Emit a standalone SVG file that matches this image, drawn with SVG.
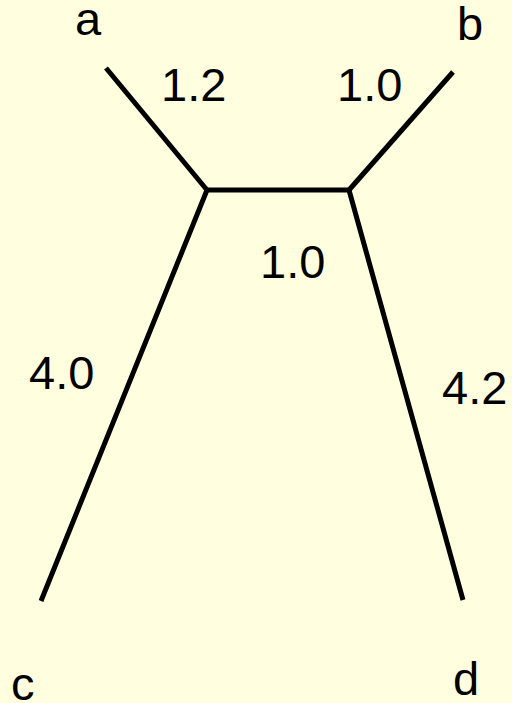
<svg xmlns="http://www.w3.org/2000/svg" width="512" height="703" viewBox="0 0 512 703">
<style>
.t{font-family:"Liberation Sans",Arial,sans-serif;font-size:47px;fill:#000}
.e{stroke:#000;stroke-width:5;fill:none;stroke-linecap:butt;stroke-linejoin:miter}
</style>
<rect width="512" height="703" fill="#FFFFE0"/>
<g id="edges">
<line class="e" x1="106" y1="68" x2="207" y2="190"/>
<line class="e" x1="453" y1="72" x2="349" y2="190"/>
<polyline class="e" points="41,601 207,190 349,190 463,600"/>
</g>
<g id="node-a"><text class="t" x="75" y="35">a</text></g>
<g id="node-b"><text class="t" x="457" y="40">b</text></g>
<g id="node-c"><text class="t" x="11" y="700">c</text></g>
<g id="node-d"><text class="t" x="453" y="695">d</text></g>
<g id="labels">
<text class="t" x="161" y="101">1.2</text>
<text class="t" x="337" y="101">1.0</text>
<text class="t" x="260" y="278">1.0</text>
<text class="t" x="29" y="389">4.0</text>
<text class="t" x="442" y="404">4.2</text>
</g>
</svg>
